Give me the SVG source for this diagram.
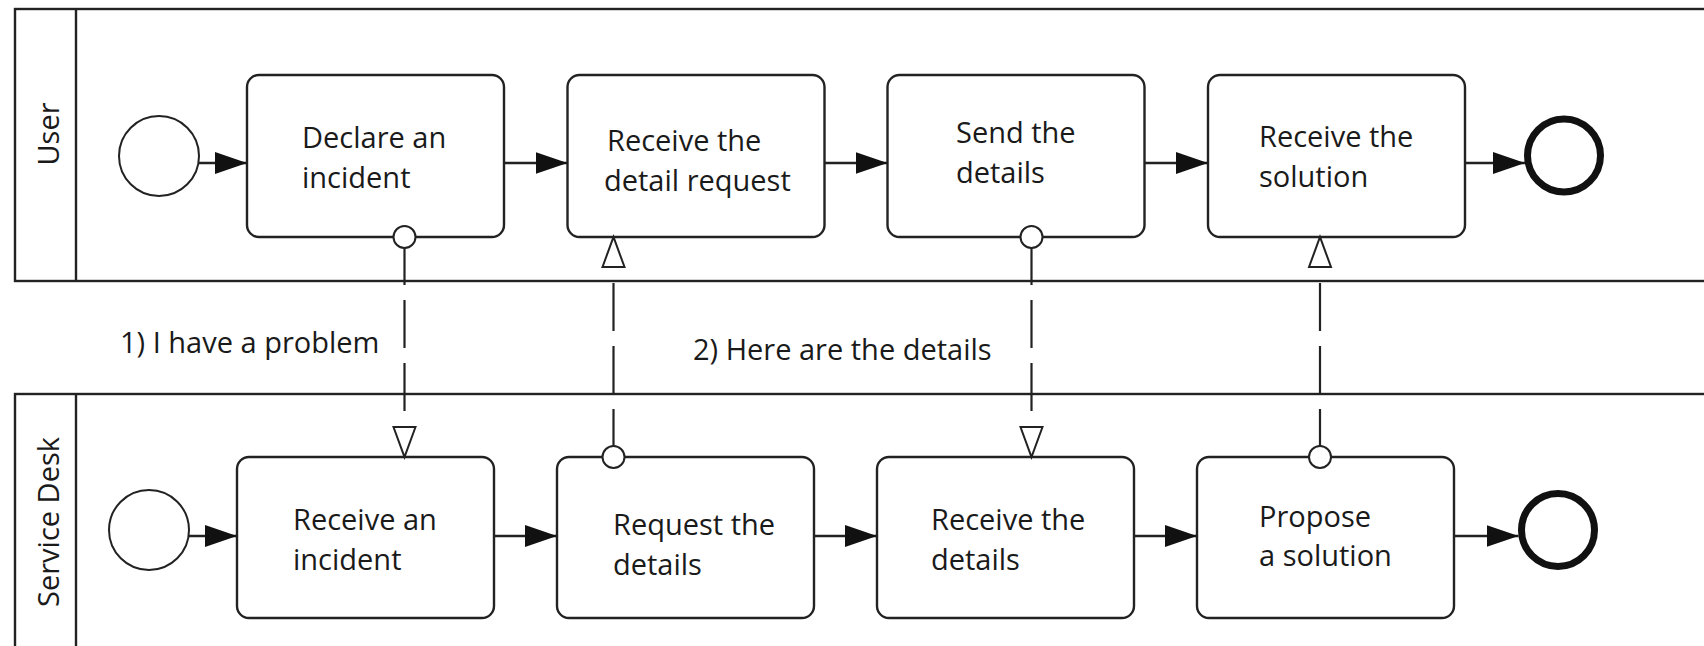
<svg xmlns="http://www.w3.org/2000/svg" width="1704" height="646" viewBox="0 0 1704 646">
  <style>
    .pool { fill: #fff; stroke: #222; stroke-width: 2.4; }
    .divider { stroke: #222; stroke-width: 2.4; }
    .task { fill: #fff; stroke: #222; stroke-width: 2.4; }
    .start { fill: #fff; stroke: #222; stroke-width: 2; }
    .end { fill: #fff; stroke: #111; stroke-width: 7; }
    .seq { fill: none; stroke: #222; stroke-width: 2.4; marker-end: url(#seqArrow); }
    .msg { fill: none; stroke: #222; stroke-width: 2.2; stroke-dasharray: 48 15; marker-start: url(#msgSource); marker-end: url(#msgHead); }
    text { font-family: "Open Sans", "Noto Sans", "Liberation Sans", sans-serif; font-size: 29px; fill: #1a1a1a; }
  </style>
  <defs>
    <marker id="seqArrow" markerUnits="userSpaceOnUse" viewBox="0 0 32 22" refX="32" refY="11" markerWidth="32" markerHeight="22" orient="auto">
      <path d="M0,0 L32,11 L0,22 Z" fill="#111"/>
    </marker>
    <marker id="msgHead" markerUnits="userSpaceOnUse" viewBox="-3 -3 36 28" refX="30" refY="11" markerWidth="36" markerHeight="28" orient="auto" overflow="visible">
      <path d="M0,0 L30,11 L0,22 Z" fill="#fff" stroke="#222" stroke-width="2" stroke-dasharray="none"/>
    </marker>
    <marker id="msgSource" markerUnits="userSpaceOnUse" viewBox="-14 -14 28 28" refX="0" refY="0" markerWidth="28" markerHeight="28" overflow="visible">
      <circle r="11" fill="#fff" stroke="#222" stroke-width="2" stroke-dasharray="none"/>
    </marker>
  </defs>

  <rect width="1704" height="646" fill="#fff"/>

  <!-- pools -->
  <g id="pool-user">
    <rect class="pool" x="15" y="9" width="1700" height="272"/>
    <line class="divider" x1="76" y1="9" x2="76" y2="281"/>
    <text transform="translate(59,134) rotate(-90)" text-anchor="middle">User</text>
  </g>
  <g id="pool-service-desk">
    <rect class="pool" x="15" y="394" width="1700" height="270"/>
    <line class="divider" x1="76" y1="394" x2="76" y2="646"/>
    <text transform="translate(59,522) rotate(-90)" text-anchor="middle">Service Desk</text>
  </g>

  <!-- User lane -->
  <g id="user-start"><circle class="start" cx="159" cy="156" r="40"/></g>
  <g id="declare-incident">
    <rect class="task" x="247" y="75" width="257" height="162" rx="12"/>
    <text x="302" y="148"><tspan x="302">Declare an</tspan><tspan x="302" y="188">incident</tspan></text>
  </g>
  <g id="receive-detail-request">
    <rect class="task" x="567.5" y="75" width="257" height="162" rx="12"/>
    <text x="607" y="150.5"><tspan x="607">Receive the</tspan><tspan x="604" y="190.5">detail request</tspan></text>
  </g>
  <g id="send-details">
    <rect class="task" x="887.5" y="75" width="257" height="162" rx="12"/>
    <text x="956" y="142.5"><tspan x="956">Send the</tspan><tspan x="956" y="183">details</tspan></text>
  </g>
  <g id="receive-solution">
    <rect class="task" x="1208" y="75" width="257" height="162" rx="12"/>
    <text x="1259" y="147"><tspan x="1259">Receive the</tspan><tspan x="1259" y="187">solution</tspan></text>
  </g>
  <g id="user-end"><circle class="end" cx="1564" cy="155.5" r="36.5"/></g>

  <!-- Service Desk lane -->
  <g id="desk-start"><circle class="start" cx="149" cy="530" r="40"/></g>
  <g id="receive-incident">
    <rect class="task" x="237" y="457" width="257" height="161" rx="12"/>
    <text x="293" y="530"><tspan x="293">Receive an</tspan><tspan x="293" y="569.5">incident</tspan></text>
  </g>
  <g id="request-details">
    <rect class="task" x="557" y="457" width="257" height="161" rx="12"/>
    <text x="613" y="535"><tspan x="613">Request the</tspan><tspan x="613" y="575">details</tspan></text>
  </g>
  <g id="receive-details">
    <rect class="task" x="877" y="457" width="257" height="161" rx="12"/>
    <text x="931" y="530"><tspan x="931">Receive the</tspan><tspan x="931" y="569.5">details</tspan></text>
  </g>
  <g id="propose-solution">
    <rect class="task" x="1197" y="457" width="257" height="161" rx="12"/>
    <text x="1259" y="527"><tspan x="1259">Propose</tspan><tspan x="1259" y="566">a solution</tspan></text>
  </g>
  <g id="desk-end"><circle class="end" cx="1558" cy="530" r="36.5"/></g>

  <!-- connectors: sequence flows inside each pool, message flows between pools -->
  <g id="connectors">
    <path class="seq" d="M199,163 H247"/>
    <path class="seq" d="M504,163 H567.5"/>
    <path class="seq" d="M824.5,163 H887.5"/>
    <path class="seq" d="M1144.5,163 H1208"/>
    <path class="seq" d="M1465,163 H1525"/>

    <path class="seq" d="M189,536 H237"/>
    <path class="seq" d="M494,536 H557"/>
    <path class="seq" d="M814,536 H877"/>
    <path class="seq" d="M1134,536 H1197"/>
    <path class="seq" d="M1454,536 H1518.5"/>

    <path class="msg" d="M404.5,237 V457"/>
    <path class="msg" d="M613.5,457 V237"/>
    <path class="msg" d="M1031.5,237 V457"/>
    <path class="msg" d="M1320,457 V237"/>

    <text x="120" y="353">1) I have a problem</text>
    <text x="693" y="360">2) Here are the details</text>
  </g>
</svg>
